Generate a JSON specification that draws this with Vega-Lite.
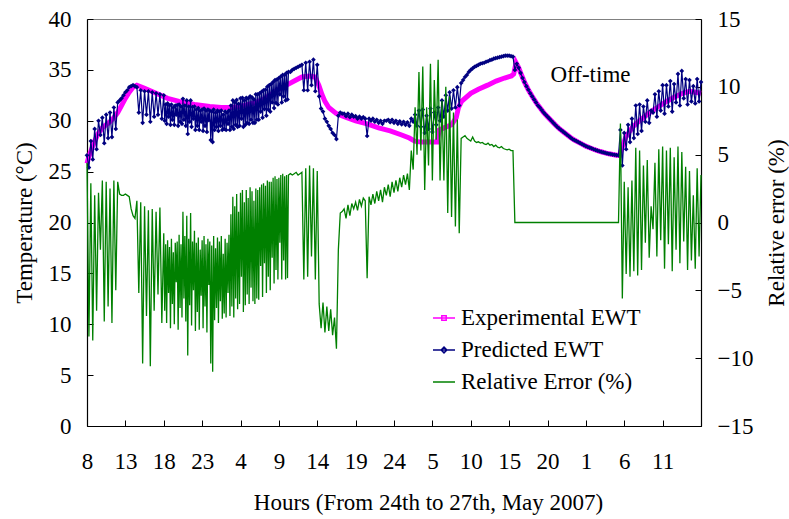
{
  "$schema": "https://vega.github.io/schema/vega-lite/v6.json",
  "autosize": {"type": "none"},
  "width": 614,
  "height": 407,
  "padding": {"left": 87, "top": 19, "right": 88, "bottom": 93},
  "background": "white",
  "datasets": {
    "ewt": [
      {"t":0,"v":25.8},{"t":0.25,"v":26.5},{"t":0.5,"v":27.0},{"t":1,"v":28.0},{"t":1.5,"v":28.8},{"t":2,"v":29.3},{"t":2.5,"v":29.6},{"t":3,"v":29.9},{"t":3.5,"v":30.3},{"t":4,"v":30.8},{"t":4.5,"v":31.5},{"t":5,"v":32.2},{"t":5.5,"v":32.8},{"t":6,"v":33.3},{"t":6.5,"v":33.5},{"t":7.5,"v":33.2},{"t":9,"v":32.7},{"t":10.5,"v":32.2},{"t":12,"v":31.9},{"t":14,"v":31.6},{"t":16,"v":31.4},{"t":17.5,"v":31.3},{"t":19,"v":31.3},{"t":20.5,"v":31.5},{"t":22,"v":31.8},{"t":23,"v":32.1},{"t":24,"v":32.6},{"t":25,"v":33.1},{"t":26,"v":33.5},{"t":27,"v":33.9},{"t":28,"v":34.3},{"t":29,"v":34.4},{"t":29.7,"v":34.3},{"t":30.2,"v":33.5},{"t":30.6,"v":32.6},{"t":31,"v":31.9},{"t":31.5,"v":31.3},{"t":32.5,"v":30.7},{"t":33.5,"v":30.4},{"t":35,"v":30.0},{"t":36.5,"v":29.7},{"t":38,"v":29.3},{"t":39.5,"v":29.0},{"t":41,"v":28.6},{"t":42,"v":28.3},{"t":42.7,"v":28.0},{"t":43.5,"v":27.9},{"t":45.6,"v":27.9},{"t":45.9,"v":29.1},{"t":46.5,"v":29.3},{"t":47.5,"v":29.6},{"t":48.1,"v":30.3},{"t":48.4,"v":31.3},{"t":48.8,"v":31.9},{"t":50,"v":32.7},{"t":51,"v":33.1},{"t":52.2,"v":33.5},{"t":53.3,"v":33.9},{"t":54.4,"v":34.2},{"t":55.3,"v":34.4},{"t":55.6,"v":34.6},{"t":55.9,"v":35.7},{"t":56.25,"v":35.2},{"t":56.5,"v":34.7},{"t":57,"v":33.8},{"t":57.5,"v":33.05},{"t":58,"v":32.4},{"t":58.5,"v":31.8},{"t":59,"v":31.3},{"t":59.5,"v":30.8},{"t":60,"v":30.4},{"t":60.5,"v":30.0},{"t":61,"v":29.6},{"t":61.5,"v":29.25},{"t":62,"v":28.95},{"t":62.5,"v":28.65},{"t":63,"v":28.35},{"t":63.5,"v":28.1},{"t":64,"v":27.9},{"t":64.5,"v":27.7},{"t":65,"v":27.5},{"t":65.5,"v":27.35},{"t":66,"v":27.2},{"t":66.5,"v":27.07},{"t":67,"v":26.95},{"t":67.5,"v":26.85},{"t":68,"v":26.75},{"t":68.5,"v":26.68},{"t":69,"v":26.62},{"t":69.4,"v":26.6},{"t":69.6,"v":27.1},{"t":70.2,"v":28.4},{"t":71.1,"v":29.4},{"t":72,"v":30.0},{"t":73.3,"v":30.8},{"t":74.5,"v":31.4},{"t":75.5,"v":31.9},{"t":76.5,"v":32.3},{"t":77.6,"v":32.7},{"t":78.5,"v":32.9},{"t":80,"v":32.7}
    ],
    "pe": [
      {"t":0,"p":26.6,"r":4.4},{"t":0.25,"p":25.4,"r":-8.4},{"t":0.5,"p":28.0,"r":2.9},{"t":0.75,"p":26.2,"r":-8.7},{"t":1,"p":29.2,"r":2.0},{"t":1.25,"p":27.2,"r":-6.5},{"t":1.5,"p":30.0,"r":2.2},{"t":1.75,"p":28.6,"r":-2.0},{"t":2,"p":30.3,"r":3.1},{"t":2.25,"p":27.8,"r":-7.3},{"t":2.5,"p":30.6,"r":3.0},{"t":2.75,"p":28.3,"r":-6.2},{"t":3,"p":30.8,"r":2.5},{"t":3.25,"p":28.4,"r":-7.4},{"t":3.5,"p":31.3,"r":3.1},{"t":3.75,"p":29.2,"r":-5.0},{"t":4,"p":31.8,"r":3.0},
      {"t":4.25,"p":32.0,"r":2.1},{"t":4.5,"p":32.2,"r":2.0},{"t":4.75,"p":32.5,"r":2.0},{"t":5,"p":32.8,"r":2.1},{"t":5.25,"p":33.0,"r":2.0},{"t":5.5,"p":33.3,"r":1.9},{"t":5.75,"p":33.4,"r":1.0},{"t":6,"p":33.5,"r":0.5},{"t":6.25,"p":33.4,"r":0.3},
      {"t":6.5,"p":33.3,"r":1.6},{"t":6.75,"p":30.8,"r":-5.2},{"t":7,"p":33.0,"r":1.5},{"t":7.25,"p":29.8,"r":-10.4},{"t":7.5,"p":32.9,"r":1.2},{"t":7.75,"p":30.6,"r":-6.9},{"t":8,"p":32.9,"r":0.9},{"t":8.25,"p":29.9,"r":-10.6},{"t":8.5,"p":32.8,"r":1.0},{"t":8.75,"p":30.4,"r":-6.5},{"t":9,"p":32.7,"r":0.8},{"t":9.25,"p":30.6,"r":-5.3},{"t":9.5,"p":32.6,"r":1.1},{"t":9.75,"p":30.2,"r":-7.4},{"t":10,"p":32.5,"r":-0.8},
      {"t":10.125,"p":30.0,"r":-6.5},{"t":10.25,"p":31.6,"r":-1.6},{"t":10.375,"p":29.7,"r":-7.4},{"t":10.5,"p":31.7,"r":-1.3},{"t":10.625,"p":30.4,"r":-5.2},{"t":10.75,"p":31.5,"r":-1.8},{"t":10.875,"p":29.6,"r":-7.8},{"t":11,"p":31.6,"r":-1.2},{"t":11.125,"p":30.1,"r":-6.0},{"t":11.25,"p":31.3,"r":-2.2},{"t":11.375,"p":29.6,"r":-7.5},{"t":11.5,"p":31.5,"r":-1.5},{"t":11.625,"p":30.6,"r":-4.4},{"t":11.75,"p":31.55,"r":-1.4},{"t":11.875,"p":29.5,"r":-7.9},{"t":12,"p":31.6,"r":-0.9},
      {"t":12.125,"p":29.9,"r":-6.3},{"t":12.25,"p":31.4,"r":-1.6},{"t":12.375,"p":29.7,"r":-7.0},{"t":12.5,"p":32.15,"r":0.8},{"t":12.625,"p":30.1,"r":-5.6},{"t":12.75,"p":31.5,"r":-1.0},{"t":12.875,"p":29.5,"r":-7.3},{"t":13,"p":32.0,"r":0.5},{"t":13.125,"p":28.7,"r":-9.8},{"t":13.25,"p":31.4,"r":-1.2},{"t":13.375,"p":29.9,"r":-6.1},{"t":13.5,"p":32.0,"r":0.7},{"t":13.625,"p":29.4,"r":-7.6},{"t":13.75,"p":31.35,"r":-1.4},{"t":13.875,"p":30.2,"r":-5.0},{"t":14,"p":31.4,"r":-0.6},
      {"t":14.125,"p":29.1,"r":-8.0},{"t":14.25,"p":31.1,"r":-1.5},{"t":14.375,"p":29.5,"r":-6.6},{"t":14.5,"p":31.25,"r":-1.1},{"t":14.625,"p":29.1,"r":-7.9},{"t":14.75,"p":31.0,"r":-2.0},{"t":14.875,"p":29.9,"r":-5.4},{"t":15,"p":31.1,"r":-1.3},{"t":15.125,"p":29.0,"r":-7.8},{"t":15.25,"p":31.2,"r":-1.0},{"t":15.375,"p":29.5,"r":-6.2},{"t":15.5,"p":31.0,"r":-1.6},{"t":15.625,"p":28.9,"r":-8.1},{"t":15.75,"p":31.1,"r":-1.2},{"t":15.875,"p":30.05,"r":-4.6},{"t":16,"p":31.0,"r":-1.4},
      {"t":16.125,"p":28.1,"r":-10.4},{"t":16.25,"p":30.9,"r":-1.7},{"t":16.375,"p":27.9,"r":-11.0},{"t":16.5,"p":31.1,"r":-1.0},{"t":16.625,"p":29.1,"r":-7.2},{"t":16.75,"p":30.8,"r":-1.9},{"t":16.875,"p":29.4,"r":-6.3},{"t":17,"p":31.0,"r":-1.1},{"t":17.125,"p":29.0,"r":-7.4},{"t":17.25,"p":30.9,"r":-1.4},{"t":17.375,"p":29.5,"r":-5.8},{"t":17.5,"p":31.0,"r":-1.0},{"t":17.625,"p":29.1,"r":-7.1},{"t":17.75,"p":30.6,"r":-2.3},{"t":17.875,"p":29.2,"r":-6.7},{"t":18,"p":30.9,"r":-1.2},
      {"t":18.125,"p":29.1,"r":-7.0},{"t":18.25,"p":30.8,"r":-1.5},{"t":18.375,"p":29.7,"r":-5.2},{"t":18.5,"p":31.0,"r":-0.9},{"t":18.625,"p":29.1,"r":-6.9},{"t":18.75,"p":31.5,"r":0.6},{"t":18.875,"p":29.4,"r":-6.2},{"t":19,"p":32.0,"r":1.9},{"t":19.125,"p":29.2,"r":-7.0},{"t":19.25,"p":31.8,"r":1.2},{"t":19.375,"p":29.6,"r":-5.6},{"t":19.5,"p":32.05,"r":2.1},{"t":19.625,"p":29.4,"r":-6.4},{"t":19.75,"p":31.65,"r":0.8},{"t":19.875,"p":29.5,"r":-6.0},{"t":20,"p":32.2,"r":2.2},
      {"t":20.125,"p":30.2,"r":-4.0},{"t":20.25,"p":32.25,"r":2.4},{"t":20.375,"p":29.4,"r":-6.6},{"t":20.5,"p":32.0,"r":1.5},{"t":20.625,"p":29.6,"r":-6.1},{"t":20.75,"p":32.25,"r":2.4},{"t":20.875,"p":29.8,"r":-5.3},{"t":21,"p":32.2,"r":1.8},{"t":21.125,"p":29.7,"r":-6.0},{"t":21.25,"p":32.4,"r":2.6},{"t":21.375,"p":30.1,"r":-4.8},{"t":21.5,"p":32.3,"r":2.3},{"t":21.625,"p":29.8,"r":-5.8},{"t":21.75,"p":32.1,"r":1.6},{"t":21.875,"p":29.8,"r":-6.0},{"t":22,"p":32.6,"r":2.5},
      {"t":22.125,"p":30.1,"r":-5.6},{"t":22.25,"p":32.6,"r":2.4},{"t":22.375,"p":30.1,"r":-5.7},{"t":22.5,"p":32.7,"r":2.6},{"t":22.625,"p":30.9,"r":-3.2},{"t":22.75,"p":32.85,"r":2.8},{"t":22.875,"p":30.3,"r":-5.5},{"t":23,"p":33.0,"r":2.9},{"t":23.125,"p":31.15,"r":-3.0},{"t":23.25,"p":33.05,"r":2.7},{"t":23.375,"p":30.5,"r":-5.2},{"t":23.5,"p":33.35,"r":3.1},{"t":23.625,"p":31.1,"r":-4.0},{"t":23.75,"p":33.5,"r":3.0},{"t":23.875,"p":30.9,"r":-5.0},{"t":24,"p":33.6,"r":3.0},
      {"t":24.125,"p":31.8,"r":-2.6},{"t":24.25,"p":33.8,"r":3.3},{"t":24.375,"p":31.25,"r":-4.5},{"t":24.5,"p":34.0,"r":3.4},{"t":24.625,"p":31.75,"r":-3.5},{"t":24.75,"p":34.05,"r":3.2},{"t":24.875,"p":31.6,"r":-4.2},{"t":25,"p":34.2,"r":3.3},{"t":25.125,"p":32.6,"r":-1.5},{"t":25.25,"p":34.35,"r":3.5},{"t":25.375,"p":31.8,"r":-4.2},{"t":25.5,"p":34.5,"r":3.6},{"t":25.625,"p":32.4,"r":-2.8},{"t":25.75,"p":34.5,"r":3.4},{"t":25.875,"p":32.0,"r":-4.2},{"t":26,"p":34.7,"r":3.5},{"t":26.125,"p":32.1,"r":-4.1},{"t":26.25,"p":34.8,"r":3.5},
      {"t":26.5,"p":34.8,"r":3.6},{"t":26.75,"p":35.0,"r":3.5},{"t":27,"p":35.1,"r":3.6},{"t":27.25,"p":35.2,"r":3.7},{"t":27.5,"p":35.3,"r":3.5},{"t":27.75,"p":35.4,"r":3.6},{"t":28,"p":35.5,"r":3.7},{"t":28.25,"p":33.0,"r":-4.2},{"t":28.5,"p":35.7,"r":4.0},{"t":28.75,"p":33.0,"r":-4.0},{"t":29,"p":35.8,"r":4.2},{"t":29.25,"p":33.5,"r":-2.5},{"t":29.5,"p":36.0,"r":4.0},{"t":29.75,"p":32.9,"r":-4.2},{"t":30,"p":35.5,"r":3.8},
      {"t":30.25,"p":32.4,"r":-6.0},{"t":30.5,"p":31.2,"r":-7.8},{"t":30.75,"p":30.9,"r":-5.9},{"t":31,"p":30.2,"r":-8.1},{"t":31.25,"p":29.9,"r":-6.2},{"t":31.5,"p":29.5,"r":-8.0},{"t":31.75,"p":29.2,"r":-6.4},{"t":32,"p":28.8,"r":-8.3},{"t":32.25,"p":28.6,"r":-7.0},{"t":32.5,"p":28.2,"r":-9.3},{"t":32.75,"p":30.5,"r":-2.0},{"t":33,"p":30.8,"r":0.7},
      {"t":33.25,"p":30.7,"r":0.8},{"t":33.5,"p":30.7,"r":1.0},{"t":33.75,"p":30.45,"r":0.3},{"t":34,"p":30.7,"r":1.3},{"t":34.25,"p":30.35,"r":0.5},{"t":34.5,"p":30.6,"r":1.4},{"t":34.75,"p":30.4,"r":1.0},{"t":35,"p":30.45,"r":1.5},{"t":35.25,"p":30.2,"r":0.9},{"t":35.5,"p":30.4,"r":1.7},{"t":35.75,"p":30.2,"r":1.2},{"t":36,"p":30.35,"r":1.8},{"t":36.25,"p":30.2,"r":1.6},{"t":36.5,"p":28.5,"r":-4.1},{"t":36.75,"p":30.2,"r":1.9},{"t":37,"p":30.0,"r":1.3},{"t":37.25,"p":30.2,"r":2.1},{"t":37.5,"p":29.9,"r":1.4},{"t":37.75,"p":30.1,"r":2.3},{"t":38,"p":29.8,"r":1.6},{"t":38.25,"p":30.0,"r":2.4},{"t":38.5,"p":29.7,"r":1.5},{"t":38.75,"p":30.0,"r":2.6},{"t":39,"p":30.0,"r":2.0},{"t":39.25,"p":30.1,"r":2.8},{"t":39.5,"p":29.85,"r":1.9},{"t":39.75,"p":30.1,"r":3.0},{"t":40,"p":29.8,"r":2.2},{"t":40.25,"p":30.0,"r":3.1},{"t":40.5,"p":29.7,"r":2.3},{"t":40.75,"p":29.95,"r":3.3},{"t":41,"p":29.65,"r":2.6},{"t":41.25,"p":29.9,"r":3.5},{"t":41.5,"p":29.6,"r":2.8},{"t":41.75,"p":29.85,"r":3.6},{"t":42,"p":29.5,"r":2.4},
      {"t":42.25,"p":30.2,"r":5.3},{"t":42.5,"p":29.9,"r":3.9},{"t":42.75,"p":30.6,"r":8.5},{"t":43,"p":29.5,"r":5.0},{"t":43.25,"p":31.0,"r":11.1},{"t":43.5,"p":29.4,"r":5.3},{"t":43.75,"p":31.1,"r":11.5},{"t":44,"p":28.8,"r":2.4},{"t":44.25,"p":30.5,"r":8.5},{"t":44.5,"p":29.2,"r":4.2},{"t":44.75,"p":31.2,"r":11.7},{"t":45,"p":28.9,"r":3.1},{"t":45.25,"p":30.8,"r":10.5},{"t":45.5,"p":29.6,"r":6.1},{"t":45.75,"p":31.3,"r":12.0},{"t":46,"p":30.0,"r":3.1},{"t":46.25,"p":32.0,"r":9.0},{"t":46.5,"p":30.4,"r":3.1},{"t":46.75,"p":32.5,"r":10.0},{"t":47,"p":31.0,"r":0.7},{"t":47.25,"p":32.8,"r":9.3},{"t":47.5,"p":31.2,"r":0.4},{"t":47.75,"p":33.0,"r":8.1},{"t":48,"p":31.3,"r":-0.3},{"t":48.25,"p":33.3,"r":7.6},{"t":48.5,"p":31.5,"r":-0.8},{"t":48.75,"p":33.7,"r":6.2},
      {"t":49,"p":34.0,"r":6.3},{"t":49.25,"p":34.3,"r":6.4},{"t":49.5,"p":34.5,"r":6.2},{"t":49.75,"p":34.8,"r":6.1},{"t":50,"p":35.0,"r":6.0},{"t":50.25,"p":35.15,"r":6.3},{"t":50.5,"p":35.3,"r":6.0},{"t":50.75,"p":35.4,"r":5.9},{"t":51,"p":35.5,"r":5.95},{"t":51.25,"p":35.6,"r":5.85},{"t":51.5,"p":35.65,"r":5.9},{"t":51.75,"p":35.7,"r":5.8},{"t":52,"p":35.8,"r":5.75},{"t":52.25,"p":35.85,"r":5.85},{"t":52.5,"p":35.95,"r":5.7},{"t":52.75,"p":36.0,"r":5.75},{"t":53,"p":36.1,"r":5.6},{"t":53.25,"p":36.15,"r":5.7},{"t":53.5,"p":36.2,"r":5.55},{"t":53.75,"p":36.25,"r":5.5},{"t":54,"p":36.3,"r":5.6},{"t":54.25,"p":36.35,"r":5.45},{"t":54.5,"p":36.4,"r":5.4},{"t":54.75,"p":36.4,"r":5.35},{"t":55,"p":36.4,"r":5.4},{"t":55.25,"p":36.35,"r":5.3},{"t":55.5,"p":36.3,"r":5.3},
      {"t":55.75,"p":35.0,"r":0},{"t":56,"p":35.6,"r":0},{"t":56.25,"p":35.2,"r":0},{"t":56.5,"p":34.7,"r":0},{"t":56.75,"p":34.2,"r":0},{"t":57,"p":33.8,"r":0},{"t":57.25,"p":33.4,"r":0},{"t":57.5,"p":33.05,"r":0},{"t":57.75,"p":32.7,"r":0},{"t":58,"p":32.4,"r":0},{"t":58.25,"p":32.1,"r":0},{"t":58.5,"p":31.8,"r":0},{"t":58.75,"p":31.5,"r":0},{"t":59,"p":31.3,"r":0},{"t":59.25,"p":31.05,"r":0},{"t":59.5,"p":30.8,"r":0},{"t":59.75,"p":30.6,"r":0},{"t":60,"p":30.4,"r":0},{"t":60.25,"p":30.2,"r":0},{"t":60.5,"p":30.0,"r":0},{"t":60.75,"p":29.8,"r":0},{"t":61,"p":29.6,"r":0},{"t":61.25,"p":29.4,"r":0},{"t":61.5,"p":29.25,"r":0},{"t":61.75,"p":29.1,"r":0},{"t":62,"p":28.95,"r":0},{"t":62.25,"p":28.8,"r":0},{"t":62.5,"p":28.65,"r":0},{"t":62.75,"p":28.5,"r":0},{"t":63,"p":28.35,"r":0},{"t":63.25,"p":28.2,"r":0},{"t":63.5,"p":28.1,"r":0},{"t":63.75,"p":28.0,"r":0},{"t":64,"p":27.9,"r":0},{"t":64.25,"p":27.8,"r":0},{"t":64.5,"p":27.7,"r":0},{"t":64.75,"p":27.6,"r":0},{"t":65,"p":27.5,"r":0},{"t":65.25,"p":27.42,"r":0},{"t":65.5,"p":27.35,"r":0},{"t":65.75,"p":27.28,"r":0},{"t":66,"p":27.2,"r":0},{"t":66.25,"p":27.13,"r":0},{"t":66.5,"p":27.07,"r":0},{"t":66.75,"p":27.0,"r":0},{"t":67,"p":26.95,"r":0},{"t":67.25,"p":26.9,"r":0},{"t":67.5,"p":26.85,"r":0},{"t":67.75,"p":26.8,"r":0},{"t":68,"p":26.75,"r":0},{"t":68.25,"p":26.72,"r":0},{"t":68.5,"p":26.68,"r":0},{"t":68.75,"p":26.65,"r":0},{"t":69,"p":26.62,"r":0},{"t":69.25,"p":26.6,"r":0},
      {"t":69.5,"p":29.1,"r":7.3},{"t":69.75,"p":25.6,"r":-5.6},{"t":70,"p":28.8,"r":3.0},{"t":70.25,"p":27.2,"r":-3.8},{"t":70.5,"p":29.6,"r":2.6},{"t":70.75,"p":27.9,"r":-4.0},{"t":71,"p":30.2,"r":3.1},{"t":71.25,"p":28.3,"r":-3.6},{"t":71.5,"p":31.5,"r":5.5},{"t":71.75,"p":28.7,"r":-3.9},{"t":72,"p":31.6,"r":5.3},{"t":72.25,"p":29.0,"r":-3.5},{"t":72.5,"p":31.4,"r":4.2},{"t":72.75,"p":29.9,"r":-1.5},{"t":73,"p":32.0,"r":4.6},{"t":73.25,"p":29.8,"r":-2.6},{"t":73.5,"p":31.0,"r":1.2},{"t":73.75,"p":30.8,"r":-0.5},{"t":74,"p":32.6,"r":4.4},{"t":74.25,"p":30.4,"r":-2.5},{"t":74.5,"p":32.9,"r":5.4},{"t":74.75,"p":31.0,"r":-1.3},{"t":75,"p":33.5,"r":5.6},{"t":75.25,"p":30.7,"r":-3.4},{"t":75.5,"p":33.5,"r":5.3},{"t":75.75,"p":31.4,"r":-1.6},{"t":76,"p":33.9,"r":5.5},{"t":76.25,"p":30.9,"r":-3.6},{"t":76.5,"p":33.6,"r":4.8},{"t":76.75,"p":31.8,"r":-2.0},{"t":77,"p":34.6,"r":5.6},{"t":77.25,"p":31.5,"r":-3.0},{"t":77.5,"p":34.9,"r":5.2},{"t":77.75,"p":32.2,"r":-1.4},{"t":78,"p":34.1,"r":4.1},{"t":78.25,"p":31.6,"r":-3.5},{"t":78.5,"p":34.0,"r":3.8},{"t":78.75,"p":31.9,"r":-2.8},{"t":79,"p":33.4,"r":2.0},{"t":79.25,"p":31.7,"r":-3.4},{"t":79.5,"p":34.1,"r":4.0},{"t":79.75,"p":31.9,"r":-2.5},{"t":80,"p":33.8,"r":3.5}
    ],
    "series": [
      {"s":"Experimental EWT"},{"s":"Predicted EWT"},{"s":"Relative Error (%)"}
    ],
    "notes": [
      {"label":"Off-time"}
    ]
  },
  "layer": [
    {
      "data": {"name": "ewt"},
      "mark": {"type": "line", "color": "#FF00FF", "strokeWidth": 5},
      "encoding": {
        "x": {
          "field": "t",
          "type": "quantitative",
          "scale": {"domain": [0, 80], "nice": false},
          "axis": {
            "values": [0,5,10,15,20,25,30,35,40,45,50,55,60,65,70,75,80],
            "labelExpr": "datum.value == 80 ? '' : datum.value == 40 ? '24' : '' + ((datum.value + 8) % 24)",
            "labelPadding": 30,
            "labelFlush": false,
            "labelOverlap": false,
            "title": "Hours (From 24th to 27th, May 2007)",
            "titleX": 341,
            "titleY": 76,
            "titleBaseline": "middle"
          }
        },
        "y": {
          "field": "v",
          "type": "quantitative",
          "scale": {"domain": [0, 40], "nice": false},
          "axis": {
            "orient": "left",
            "values": [0,5,10,15,20,25,30,35,40],
            "labelPadding": 22,
            "title": "Temperature (°C)",
            "titleX": -63,
            "titleBaseline": "middle"
          }
        }
      }
    },
    {
      "data": {"name": "pe"},
      "mark": {"type": "line", "color": "#000080", "strokeWidth": 1.2},
      "encoding": {
        "x": {
          "field": "t",
          "type": "quantitative",
          "scale": {"domain": [0, 80], "nice": false},
          "axis": {
            "values": [0,5,10,15,20,25,30,35,40,45,50,55,60,65,70,75,80],
            "labelExpr": "datum.value == 80 ? '' : datum.value == 40 ? '24' : '' + ((datum.value + 8) % 24)",
            "labelPadding": 30,
            "labelFlush": false,
            "labelOverlap": false,
            "title": "Hours (From 24th to 27th, May 2007)",
            "titleX": 341,
            "titleY": 76,
            "titleBaseline": "middle"
          }
        },
        "y": {"field": "p", "type": "quantitative", "scale": {"domain": [0, 40], "nice": false}, "axis": null}
      }
    },
    {
      "data": {"name": "pe"},
      "mark": {"type": "point", "shape": "diamond", "filled": true, "size": 22, "color": "#000080", "opacity": 1},
      "encoding": {
        "x": {
          "field": "t",
          "type": "quantitative",
          "scale": {"domain": [0, 80], "nice": false},
          "axis": {
            "values": [0,5,10,15,20,25,30,35,40,45,50,55,60,65,70,75,80],
            "labelExpr": "datum.value == 80 ? '' : datum.value == 40 ? '24' : '' + ((datum.value + 8) % 24)",
            "labelPadding": 30,
            "labelFlush": false,
            "labelOverlap": false,
            "title": "Hours (From 24th to 27th, May 2007)",
            "titleX": 341,
            "titleY": 76,
            "titleBaseline": "middle"
          }
        },
        "y": {"field": "p", "type": "quantitative", "scale": {"domain": [0, 40], "nice": false}, "axis": null}
      }
    },
    {
      "data": {"name": "pe"},
      "mark": {"type": "line", "color": "#008000", "strokeWidth": 1.3},
      "encoding": {
        "x": {
          "field": "t",
          "type": "quantitative",
          "scale": {"domain": [0, 80], "nice": false},
          "axis": {
            "values": [0,5,10,15,20,25,30,35,40,45,50,55,60,65,70,75,80],
            "labelExpr": "datum.value == 80 ? '' : datum.value == 40 ? '24' : '' + ((datum.value + 8) % 24)",
            "labelPadding": 30,
            "labelFlush": false,
            "labelOverlap": false,
            "title": "Hours (From 24th to 27th, May 2007)",
            "titleX": 341,
            "titleY": 76,
            "titleBaseline": "middle"
          }
        },
        "y": {
          "field": "r",
          "type": "quantitative",
          "scale": {"domain": [-15, 15], "nice": false},
          "axis": {
            "orient": "right",
            "values": [-15,-10,-5,0,5,10,15],
            "labelPadding": 22,
            "title": "Relative error (%)",
            "titleAngle": -90,
            "titleX": 75,
            "titleBaseline": "middle"
          }
        }
      }
    },
    {
      "data": {"name": "notes"},
      "mark": {"type": "text", "font": "Liberation Serif", "fontSize": 23, "fill": "#000000", "align": "center", "baseline": "middle"},
      "encoding": {
        "x": {
          "datum": 65.6,
          "type": "quantitative",
          "scale": {"domain": [0, 80], "nice": false},
          "axis": {
            "values": [0,5,10,15,20,25,30,35,40,45,50,55,60,65,70,75,80],
            "labelExpr": "datum.value == 80 ? '' : datum.value == 40 ? '24' : '' + ((datum.value + 8) % 24)",
            "labelPadding": 30,
            "labelFlush": false,
            "labelOverlap": false,
            "title": "Hours (From 24th to 27th, May 2007)",
            "titleX": 341,
            "titleY": 76,
            "titleBaseline": "middle"
          }
        },
        "y": {"datum": 34.5, "type": "quantitative", "scale": {"domain": [0, 40], "nice": false}, "axis": null},
        "text": {"field": "label", "type": "nominal"}
      }
    },
    {
      "data": {"name": "series"},
      "mark": {"type": "point", "filled": false, "opacity": 0},
      "encoding": {
        "color": {
          "field": "s",
          "type": "nominal",
          "scale": {
            "domain": ["Experimental EWT", "Predicted EWT", "Relative Error (%)"],
            "range": ["#FF00FF", "#000080", "#008000"]
          },
          "legend": {
            "title": null,
            "orient": "none",
            "legendX": 345,
            "legendY": 287,
            "symbolSize": 484,
            "symbolStrokeWidth": 1.5,
            "symbolOpacity": 1,
            "labelFontSize": 23,
            "labelLimit": 0,
            "labelOffset": 5,
            "rowPadding": 8,
            "padding": 0
          }
        },
        "shape": {
          "field": "s",
          "type": "nominal",
          "scale": {
            "domain": ["Experimental EWT", "Predicted EWT", "Relative Error (%)"],
            "range": [
              "M-1,0H1M-0.2,-0.2H0.2V0.2H-0.2Z",
              "M-1,0H1M0,-0.26L0.26,0L0,0.26L-0.26,0Z",
              "M-1,0H1"
            ]
          },
          "legend": {
            "title": null,
            "orient": "none",
            "legendX": 345,
            "legendY": 287,
            "symbolSize": 484,
            "symbolStrokeWidth": 1.5,
            "symbolOpacity": 1,
            "labelFontSize": 23,
            "labelLimit": 0,
            "labelOffset": 5,
            "rowPadding": 8,
            "padding": 0
          }
        }
      }
    }
  ],
  "resolve": {"scale": {"y": "independent"}},
  "config": {
    "font": "Liberation Serif",
    "view": {"stroke": "#808080", "strokeWidth": 1},
    "axis": {
      "grid": false,
      "domainColor": "#000",
      "domainWidth": 1.2,
      "tickColor": "#000",
      "tickWidth": 1,
      "tickSize": -6,
      "labelOverlap": false,
      "labelFont": "Liberation Serif",
      "labelFontSize": 23,
      "labelColor": "#000",
      "titleFont": "Liberation Serif",
      "titleFontSize": 23,
      "titleFontWeight": "normal",
      "titleColor": "#000"
    },
    "legend": {
      "labelFont": "Liberation Serif",
      "labelColor": "#000"
    },
    "text": {"font": "Liberation Serif"}
  }
}
